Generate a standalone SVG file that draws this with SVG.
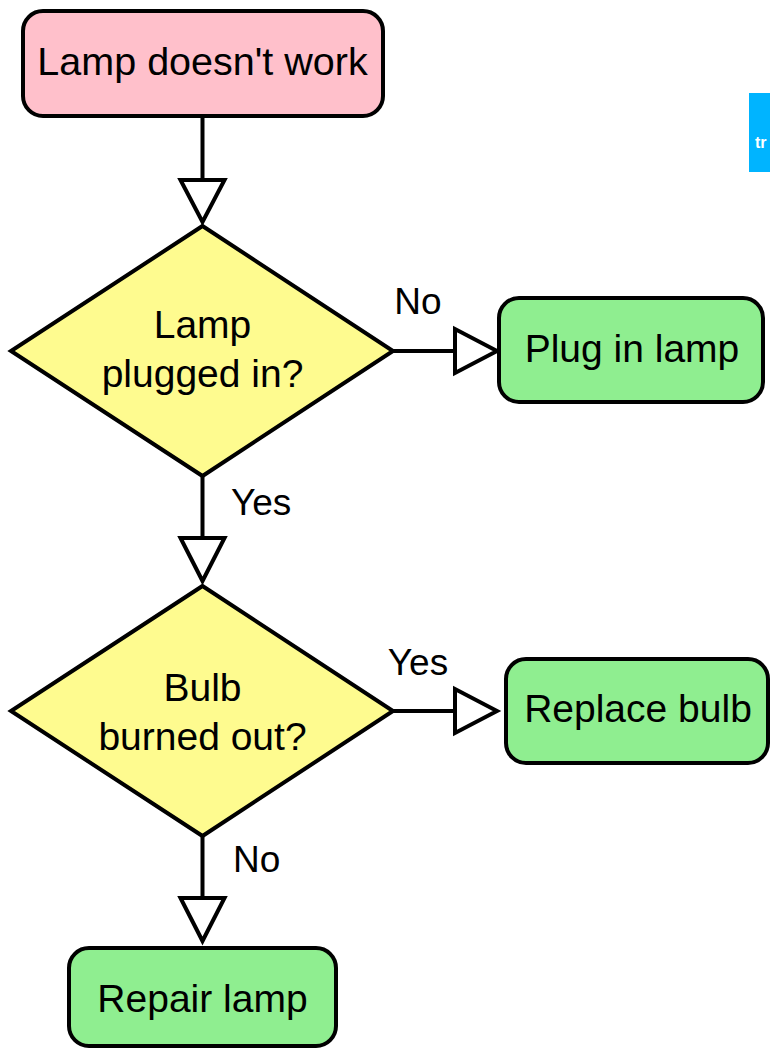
<svg xmlns="http://www.w3.org/2000/svg" width="770" height="1049" viewBox="0 0 770 1049">
<style>
  .box { stroke: #000; stroke-width: 4; }
  .start { fill: #ffc0cb; }
  .act { fill: #8fee90; }
  .dec { fill: #fefb8f; stroke: #000; stroke-width: 4; stroke-linejoin: miter; }
  .t { font-family: "Liberation Sans", Arial, sans-serif; font-size: 39px; fill: #000; text-anchor: middle; }
  .lbl { font-family: "Liberation Sans", Arial, sans-serif; font-size: 37px; fill: #000; }
  .edge { stroke: #000; stroke-width: 4; fill: none; }
  .head { fill: #fff; stroke: #000; stroke-width: 4; stroke-linejoin: miter; }
</style>
<rect width="770" height="1049" fill="#fff"/>

<g id="badge">
  <rect x="749" y="93" width="30" height="79" fill="#00b4ff"/>
  <text x="755" y="148" font-family="Liberation Sans, Arial, sans-serif" font-size="16" font-weight="bold" fill="#fff">tr</text>
</g>

<g id="connectors">
  <line class="edge" x1="202.5" y1="117" x2="202.5" y2="180"/>
  <polygon class="head" points="180.5,180 224.5,180 202.5,222"/>
  <line class="edge" x1="393" y1="351" x2="455" y2="351"/>
  <polygon class="head" points="455,329 455,373 497,351"/>
  <line class="edge" x1="202.5" y1="477" x2="202.5" y2="538"/>
  <polygon class="head" points="180.5,538 224.5,538 202.5,581"/>
  <line class="edge" x1="393" y1="711" x2="455" y2="711"/>
  <polygon class="head" points="455,689 455,733 497,711"/>
  <line class="edge" x1="202.5" y1="837" x2="202.5" y2="898"/>
  <polygon class="head" points="180.5,898 224.5,898 202.5,941"/>
  <text class="lbl" x="418" y="314" text-anchor="middle">No</text>
  <text class="lbl" x="231" y="515">Yes</text>
  <text class="lbl" x="418" y="675" text-anchor="middle">Yes</text>
  <text class="lbl" x="233" y="872">No</text>
</g>

<g id="start">
  <rect class="box start" x="23" y="11" width="360" height="105" rx="20" ry="20"/>
  <text class="t" x="202.5" y="75" style="font-size:39.5px">Lamp doesn't work</text>
</g>

<g id="plugged">
  <polygon class="dec" points="202.5,226 393,351 202.5,476 11,351"/>
  <text class="t" x="202.5" y="338">Lamp</text>
  <text class="t" x="202.5" y="387">plugged in?</text>
</g>

<g id="pluglamp">
  <rect class="box act" x="499" y="298" width="264" height="104" rx="20" ry="20"/>
  <text class="t" x="632" y="362">Plug in lamp</text>
</g>

<g id="bulb">
  <polygon class="dec" points="202.5,586 393,711 202.5,836 11,711"/>
  <text class="t" x="202.5" y="701">Bulb</text>
  <text class="t" x="202.5" y="750">burned out?</text>
</g>

<g id="replace">
  <rect class="box act" x="506" y="659" width="262" height="104" rx="20" ry="20"/>
  <text class="t" x="638" y="722">Replace bulb</text>
</g>

<g id="repair">
  <rect class="box act" x="69" y="948" width="267" height="98" rx="20" ry="20"/>
  <text class="t" x="202.5" y="1012">Repair lamp</text>
</g>
</svg>
